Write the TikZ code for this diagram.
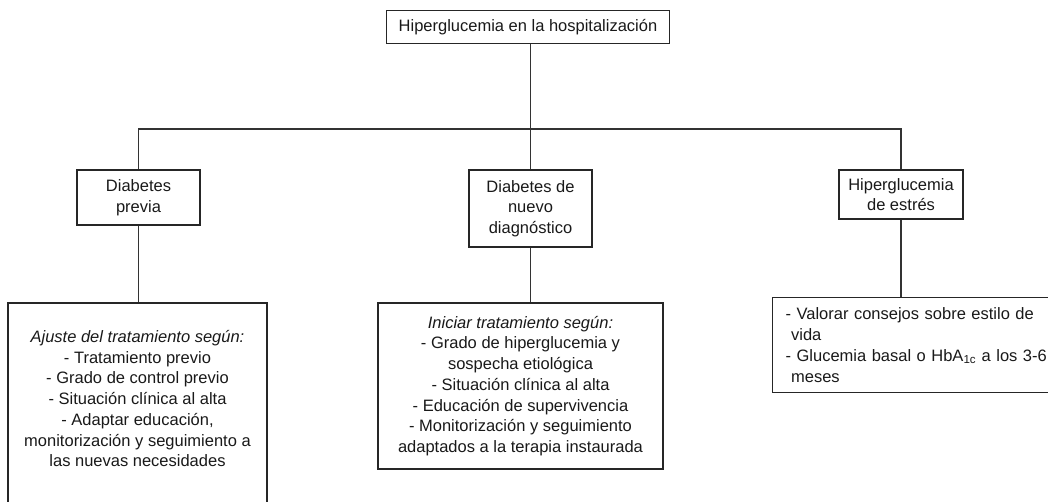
\documentclass[tikz,border=0pt]{standalone}
\usepackage{fontspec}
\setmainfont{Liberation Sans}

\tikzset{
  caja/.style={draw=black!85, line width=1.2pt, text=black!90, inner xsep=8pt, inner ysep=4pt, align=center},
  linea/.style={draw=black!80, line width=1.2pt},
}

\begin{document}
\begin{tikzpicture}[x=1pt,y=-1pt,font=\fontsize{16.5}{20.7}\selectfont]
				\useasboundingbox (0,0) rectangle (1048,502);
				\clip (0,0) rectangle (1048,502);
				% Cajas
				\node[caja, minimum width=283pt, minimum height=33pt] (hosp) at (528,27) {Hiperglucemia en la hospitalización};
				\node[caja, minimum width=123pt, minimum height=55pt] (previa) at (138.5,197.5) {Diabetes\\previa};
				\node[caja, minimum width=123pt, minimum height=77pt] (nuevo) at (530.5,208.5) {Diabetes de\\nuevo\\diagnóstico};
				\node[caja, minimum width=124pt, minimum height=49pt] (estres) at (901,194.5) {Hiperglucemia\\de estrés};
				\node[caja, minimum width=259pt, minimum height=218pt] (ajuste) at (137.5,412) {\textit{Ajuste del tratamiento según:}\\- Tratamiento previo\\- Grado de control previo\\- Situación clínica al alta\\- Adaptar educación,\\monitorización y seguimiento a\\las nuevas necesidades\\ \strut};
				\node[caja, minimum width=285pt, minimum height=166pt] (iniciar) at (520.5,386) {\textit{Iniciar tratamiento según:}\\- Grado de hiperglucemia y\\sospecha etiológica\\- Situación clínica al alta\\- Educación de supervivencia\\- Monitorización y seguimiento\\adaptados a la terapia instaurada};
				\node[caja, anchor=north west, inner xsep=13pt, text width=290pt, align=left, minimum height=95pt] (consejos) at (772,297) {- Valorar consejos sobre estilo de\\\phantom{-}vida\\- Glucemia basal o HbA\textsubscript{1c} a los 3-6\\\phantom{-}meses};
				% Líneas
				\coordinate (bus) at (530.5,129);
				\draw[linea] (hosp.south -| nuevo.north) -- (nuevo.north);
				\draw[linea] (previa.north) |- (bus) -| (estres.north);
				\draw[linea] (previa.south) -- (previa.south |- ajuste.north);
				\draw[linea] (nuevo.south) -- (nuevo.south |- iniciar.north);
				\draw[linea] (estres.south) -- (estres.south |- consejos.north);
\end{tikzpicture}
\end{document}
